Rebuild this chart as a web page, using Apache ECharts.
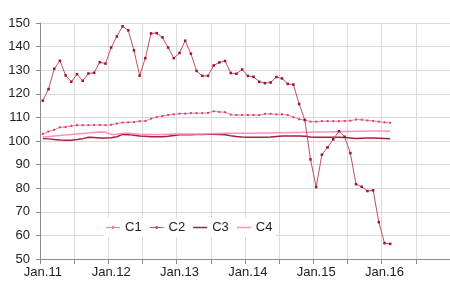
<!DOCTYPE html>
<html>
<head>
<meta charset="utf-8">
<script src="https://cdn.jsdelivr.net/npm/echarts@6/dist/echarts.min.js"></script>
<style>html,body{margin:0;padding:0;background:#fff}#c{width:450px;height:291px}</style>
</head>
<body>
<div id="c"></div>
<script>
const monthNames = ['Jan','Feb','Mar','Apr','May','Jun','Jul','Aug','Sep','Oct','Nov','Dec'];
const years = ['11','12','13','14','15','16'];
const categories = [];
years.forEach(y => monthNames.forEach(m => categories.push(m + '.' + y)));
const tickLabels = ['Jan.11','Jan.12','Jan.13','Jan.14','Jan.15','Jan.16'];

const c1 = [103.0,104.0,104.7,105.8,105.9,106.4,106.7,106.7,106.7,106.8,106.8,106.7,
            106.9,107.4,107.8,107.9,108.0,108.4,108.5,109.5,110.1,110.6,111.0,111.3,
            111.6,111.6,111.8,111.8,111.8,111.9,112.6,112.3,112.2,111.2,111.0,111.0,
            111.0,111.0,111.0,111.5,111.5,111.3,111.3,111.0,110.1,109.2,108.9,108.2,
            108.2,108.4,108.4,108.4,108.4,108.5,108.6,109.1,109.0,108.7,108.5,108.2,
            107.9,107.7];
const c2 = [117.1,122.0,130.6,134.0,127.8,125.1,128.3,125.5,128.6,128.9,133.4,132.8,
            139.6,144.3,148.6,146.9,138.4,127.7,135.1,145.6,145.7,143.9,139.6,135.1,
            137.3,142.5,137.0,129.7,127.6,127.6,132.0,133.3,133.9,128.8,128.5,130.3,
            127.6,127.2,125.1,124.5,124.8,127.1,126.5,124.2,123.9,115.7,108.9,92.2,
            80.5,94.2,97.3,100.7,104.2,101.8,94.9,81.7,80.6,78.8,79.1,65.6,
            56.7,56.4];
const c3 = [101.1,100.9,100.6,100.4,100.3,100.3,100.6,101.0,101.6,101.5,101.3,101.3,
            101.4,101.8,102.8,102.7,102.4,102.1,102.0,101.8,101.8,101.8,102.0,102.3,
            102.6,102.7,102.7,102.8,102.8,102.9,102.9,102.8,102.6,102.2,101.9,101.7,
            101.6,101.6,101.6,101.6,101.7,101.9,102.1,102.1,102.1,102.1,102.0,101.7,
            101.6,101.6,101.6,101.6,101.6,101.5,101.3,101.1,101.2,101.3,101.3,101.2,
            101.1,101.0];
const c4 = [101.8,101.9,102.1,102.3,102.5,102.8,103.0,103.2,103.4,103.6,103.8,103.7,
            102.8,102.9,103.3,103.3,103.1,102.9,102.8,102.8,102.8,102.8,102.9,103.0,
            103.0,103.0,103.0,103.0,103.0,103.1,103.2,103.2,103.3,103.3,103.3,103.3,
            103.3,103.3,103.4,103.4,103.4,103.5,103.5,103.5,103.6,103.6,103.7,103.7,
            103.8,103.8,103.8,103.9,103.9,104.0,104.0,104.1,104.1,104.2,104.2,104.2,
            104.2,104.1];

const FONT = 'Liberation Sans';
const ICON_DOT = 'path://M0,1 H6 V0 H8 V1 H14 V2 H8 V3 H6 V2 H0 Z';
const ICON_LINE = 'path://M0,0 H14 V1.5 H0 Z';
const chart = echarts.init(document.getElementById('c'), null, {renderer: 'canvas'});
chart.setOption({
  animation: false,
  backgroundColor: '#fff',
  textStyle: {fontFamily: FONT},
  grid: {left: 40, right: 0, top: 23, bottom: 32, containLabel: false},
  legend: {
    data: [
      {name: 'C1', icon: ICON_DOT, itemStyle: {color: '#f27aa8'}},
      {name: 'C2', icon: ICON_DOT, itemStyle: {color: '#c0505e'}},
      {name: 'C3', icon: ICON_LINE},
      {name: 'C4', icon: ICON_LINE}
    ],
    left: 103, top: 218,
    itemWidth: 14, itemHeight: 3, itemGap: 8,
    padding: [3, 3],
    backgroundColor: '#fff',
    textStyle: {fontSize: 13, color: '#222', fontFamily: FONT}
  },
  xAxis: {
    type: 'category',
    data: categories,
    boundaryGap: true,
    axisLine: {lineStyle: {color: '#8c8c8c', width: 1}},
    axisTick: {show: true, interval: 5, length: 5, lineStyle: {color: '#8c8c8c'}},
    axisLabel: {
      interval: 11, margin: 7, fontSize: 13, color: '#222', fontFamily: FONT,
      formatter: v => tickLabels.indexOf(v) >= 0 ? v : ''
    },
    splitLine: {show: true, interval: 5, lineStyle: {color: '#dadada', width: 1}}
  },
  yAxis: {
    type: 'value',
    min: 50, max: 150, interval: 10,
    axisLine: {show: true, lineStyle: {color: '#8c8c8c', width: 1}},
    axisTick: {show: true, length: 4, lineStyle: {color: '#8c8c8c'}},
    axisLabel: {margin: 10, fontSize: 13, color: '#222', fontFamily: FONT},
    splitLine: {show: true, lineStyle: {color: '#dadada', width: 1}}
  },
  series: [
    {name: 'C1', type: 'line', data: c1, symbol: 'rect', symbolSize: 2, showSymbol: true,
     lineStyle: {color: '#f27aa8', width: 1}, itemStyle: {color: '#d4407c'}, z: 3},
    {name: 'C2', type: 'line', data: c2, symbol: 'rect', symbolSize: 2.5, showSymbol: true,
     lineStyle: {color: '#c0505e', width: 1}, itemStyle: {color: '#9c1030'}, z: 4},
    {name: 'C3', type: 'line', data: c3, symbol: 'none',
     lineStyle: {color: '#a82038', width: 1.5}, itemStyle: {color: '#a82038'}, z: 2},
    {name: 'C4', type: 'line', data: c4, symbol: 'none',
     lineStyle: {color: '#ff8ec4', width: 1.5}, itemStyle: {color: '#ff8ec4'}, z: 2}
  ]
});
</script>
</body>
</html>
